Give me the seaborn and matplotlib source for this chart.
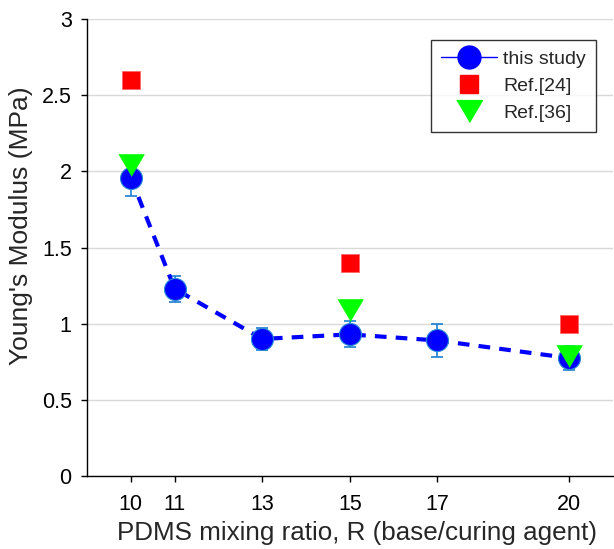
import numpy as np
import pandas as pd
import matplotlib
matplotlib.use("Agg")
import matplotlib.pyplot as plt
from matplotlib.lines import Line2D
import seaborn as sns

# data
ratio      = [10, 11, 13, 15, 17, 20]
modulus    = [1.96, 1.23, 0.90, 0.93, 0.89, 0.775]
modulus_sd = [0.12, 0.085, 0.07, 0.085, 0.11, 0.08]

ref24_ratio = [10, 15, 20]
ref24_mod   = [2.60, 1.40, 1.00]

ref36_ratio = [10, 15, 20]
ref36_mod   = [2.04, 1.09, 0.79]

sns.set_style("white")
plt.rcParams["font.family"] = ["Liberation Sans", "DejaVu Sans"]

study = pd.DataFrame({"R": ratio, "E": modulus})
ref24 = pd.DataFrame({"R": ref24_ratio, "E": ref24_mod})
ref36 = pd.DataFrame({"R": ref36_ratio, "E": ref36_mod})

# wide, flat down-pointing triangle like the original
tri = [(-1.0, 0.85), (1.0, 0.85), (0.0, -0.85)]

fig = plt.figure(figsize=(6.14, 5.49), dpi=100)
ax = fig.add_axes([0.1417, 0.133, 0.856, 0.832])

ax.yaxis.grid(True, color="#d9d9d9", linewidth=1)
ax.set_axisbelow(True)

ax.errorbar(ratio, modulus, yerr=modulus_sd, fmt="none", ecolor="#1a7fd0",
            elinewidth=1.2, capsize=4, capthick=1.2, zorder=2)
sns.lineplot(data=study, x="R", y="E", ax=ax, color="#0000ff",
             linestyle=(0, (2.8, 2.2)), linewidth=3, zorder=3)
sns.scatterplot(data=study, x="R", y="E", ax=ax, marker="o", s=250,
                color="#0000ff", edgecolor="#2a8ad4", linewidth=0.8, zorder=4)
sns.scatterplot(data=ref24, x="R", y="E", ax=ax, marker="s", s=150,
                color="#ff0000", edgecolor="#ff6060", linewidth=0.5, zorder=5)
sns.scatterplot(data=ref36, x="R", y="E", ax=ax, marker=tri, s=340,
                color="#00ff00", edgecolor="#00ff00", linewidth=0.5, zorder=6)

ax.set_xlim(9, 21)
ax.set_ylim(0, 3)
ax.set_xticks(ratio)
ax.set_yticks([0, 0.5, 1, 1.5, 2, 2.5, 3])
ax.set_yticklabels(["0", "0.5", "1", "1.5", "2", "2.5", "3"])
ax.tick_params(axis="both", direction="out", length=4.5, width=1,
               labelsize=15.5, colors="black", bottom=True, left=True)
ax.tick_params(axis="x", pad=8.5)
ax.tick_params(axis="y", pad=6.5)
ax.set_xlabel("PDMS mixing ratio, R (base/curing agent)", fontsize=18.7)
ax.set_ylabel("Young's Modulus (MPa)", fontsize=19)
ax.xaxis.set_label_coords(0.513, -0.098)
ax.yaxis.set_label_coords(-0.103, 0.549)

for side in ["top", "right"]:
    ax.spines[side].set_visible(False)
for side in ["left", "bottom"]:
    ax.spines[side].set_color("black")
    ax.spines[side].set_linewidth(1)

handles = [
    Line2D([], [], color="#0000ff", linewidth=1, marker="o", markersize=16.5,
           markerfacecolor="#0000ff", markeredgecolor="#0000ff"),
    Line2D([], [], linestyle="none", marker="s", markersize=12.5,
           color="#ff0000"),
    Line2D([], [], linestyle="none", marker=tri, markersize=18.5,
           color="#00ff00"),
]
leg = ax.legend(handles, ["this study", "Ref.[24]", "Ref.[36]"],
                loc="upper right", bbox_to_anchor=(0.968, 0.954),
                fontsize=14, frameon=True, fancybox=False, handlelength=2.9,
                labelspacing=0.5, borderpad=0.5, handletextpad=0.3,
                borderaxespad=0.0)
leg.get_frame().set_edgecolor("black")
leg.get_frame().set_linewidth(1)

fig.savefig("out.png", dpi=100)
